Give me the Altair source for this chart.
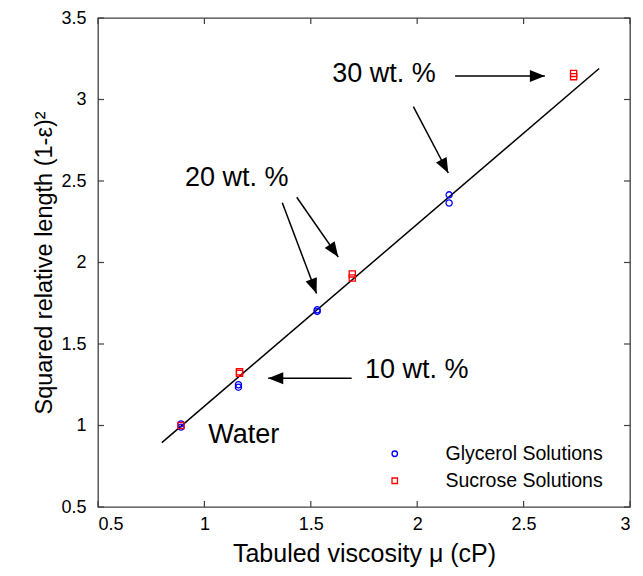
import math
import altair as alt
import pandas as pd

# ---- data ----
glyc_x = [0.89, 0.89, 1.16, 1.16, 1.53, 1.53, 2.15, 2.15]
glyc_y = [1.01, 0.99, 1.25, 1.235, 1.71, 1.70, 2.415, 2.365]
suc_x = [0.89, 1.165, 1.165, 1.695, 1.695, 2.735, 2.735]
suc_y = [1.00, 1.33, 1.32, 1.93, 1.905, 3.16, 3.14]

fit_x = [0.80, 2.855]
fit_y = [0.895, 3.19]

arrow_x1 = [2.178, 1.982, 1.366, 1.434, 1.692]
arrow_y1 = [3.144, 2.956, 2.366, 2.400, 1.290]
arrow_x2 = [2.600, 2.146, 1.527, 1.629, 1.300]
arrow_y2 = [3.144, 2.549, 1.810, 2.034, 1.290]

note_text = ["30 wt. %", "20 wt. %", "10 wt. %", "Water"]
note_x = [1.844, 1.152, 1.998, 1.185]
note_y = [3.158, 2.517, 1.338, 0.940]

x_ticks = [0.5, 1, 1.5, 2, 2.5, 3]
y_ticks = [0.5, 1, 1.5, 2, 2.5, 3, 3.5]

series_names = ["Glycerol Solutions", "Sucrose Solutions"]

# ---- layout ----
W, H = 532, 489
FONT = "Liberation Sans"
TICK = 6

xs = alt.Scale(domain=[0.5, 3], nice=False, zero=False)
ys = alt.Scale(domain=[0.5, 3.5], nice=False, zero=False)
xaxis = alt.Axis(values=x_ticks, format="~g", title="Tabuled viscosity μ (cP)",
                 labelPadding=8, titlePadding=8)
yaxis = alt.Axis(values=y_ticks, format="~g", title="Squared relative length (1-ε)²",
                 labelPadding=12, titlePadding=4, titleFontSize=23.5)


def X(f):
    return alt.X(f, type="quantitative", scale=xs, axis=xaxis)


def Y(f):
    return alt.Y(f, type="quantitative", scale=ys, axis=yaxis)


pts = pd.DataFrame({
    "x": glyc_x + suc_x,
    "y": glyc_y + suc_y,
    "series": [series_names[0]] * len(glyc_x) + [series_names[1]] * len(suc_x),
})

legend = alt.Legend(title=None, orient="none", legendX=287, legendY=426,
                    labelFontSize=19.5, labelFont=FONT, labelColor="black",
                    labelOffset=41, rowPadding=6, symbolSize=30,
                    symbolStrokeWidth=1.3, symbolOpacity=1, padding=0)

points = alt.Chart(pts).mark_point(filled=False, size=38, strokeWidth=1.3, opacity=1).encode(
    x=X("x"), y=Y("y"),
    color=alt.Color("series:N", scale=alt.Scale(domain=series_names, range=["#0000ff", "#ff0000"]),
                    legend=legend),
    shape=alt.Shape("series:N", scale=alt.Scale(domain=series_names, range=["circle", "square"]),
                    legend=legend),
)

fit = alt.Chart(pd.DataFrame({"x": fit_x, "y": fit_y})).mark_line(
    color="black", strokeWidth=1.5).encode(x=X("x"), y=Y("y"))

sx = W / 2.5
sy = H / 3.0
angles = []
for a, b, c, d in zip(arrow_x1, arrow_y1, arrow_x2, arrow_y2):
    dx = (c - a) * sx
    dy = -(d - b) * sy
    angles.append(math.degrees(math.atan2(dx, -dy)) % 360)

arr = pd.DataFrame({"x": arrow_x1, "y": arrow_y1, "x2": arrow_x2, "y2": arrow_y2, "angle": angles})

shafts = alt.Chart(arr).mark_rule(color="black", strokeWidth=1.5).encode(
    x=X("x"), y=Y("y"), x2="x2:Q", y2="y2:Q")

heads = alt.Chart(arr).mark_point(
    shape="M0,0L-0.8,2L0.8,2Z", filled=True, color="black", size=225, opacity=1, strokeWidth=0
).encode(x=X("x2"), y=Y("y2"), angle=alt.Angle("angle:Q", scale=None))

notes = alt.Chart(pd.DataFrame({"x": note_x, "y": note_y, "t": note_text})).mark_text(
    font=FONT, fontSize=27, align="center", baseline="middle", color="black"
).encode(x=X("x"), y=Y("y"), text="t:N")

xt = pd.DataFrame({"v": x_ticks})
yt = pd.DataFrame({"v": y_ticks})
tick_color = "#404040"
xt_bot = alt.Chart(xt).mark_rule(color=tick_color, strokeWidth=1.2).encode(
    x=X("v"), y=alt.value(H), y2=alt.value(H - TICK))
xt_top = alt.Chart(xt).mark_rule(color=tick_color, strokeWidth=1.2).encode(
    x=X("v"), y=alt.value(0), y2=alt.value(TICK))
yt_left = alt.Chart(yt).mark_rule(color=tick_color, strokeWidth=1.2).encode(
    y=Y("v"), x=alt.value(0), x2=alt.value(TICK))
yt_right = alt.Chart(yt).mark_rule(color=tick_color, strokeWidth=1.2).encode(
    y=Y("v"), x=alt.value(W), x2=alt.value(W - TICK))

chart = alt.layer(
    xt_bot, xt_top, yt_left, yt_right, fit, shafts, heads, notes, points
).properties(
    width=W, height=H,
    padding={"left": 90, "top": 10, "right": 5, "bottom": 60},
    autosize=alt.AutoSizeParams(type="none"),
).configure_view(
    stroke="#404040", strokeWidth=1.3
).configure_axis(
    domain=False, ticks=False, grid=False,
    labelFont=FONT, labelFontSize=18, labelColor="black",
    titleFont=FONT, titleFontSize=25, titleFontWeight="normal", titleColor="black",
)

chart.save("out.html", embed_options={"renderer": "svg", "actions": False})
